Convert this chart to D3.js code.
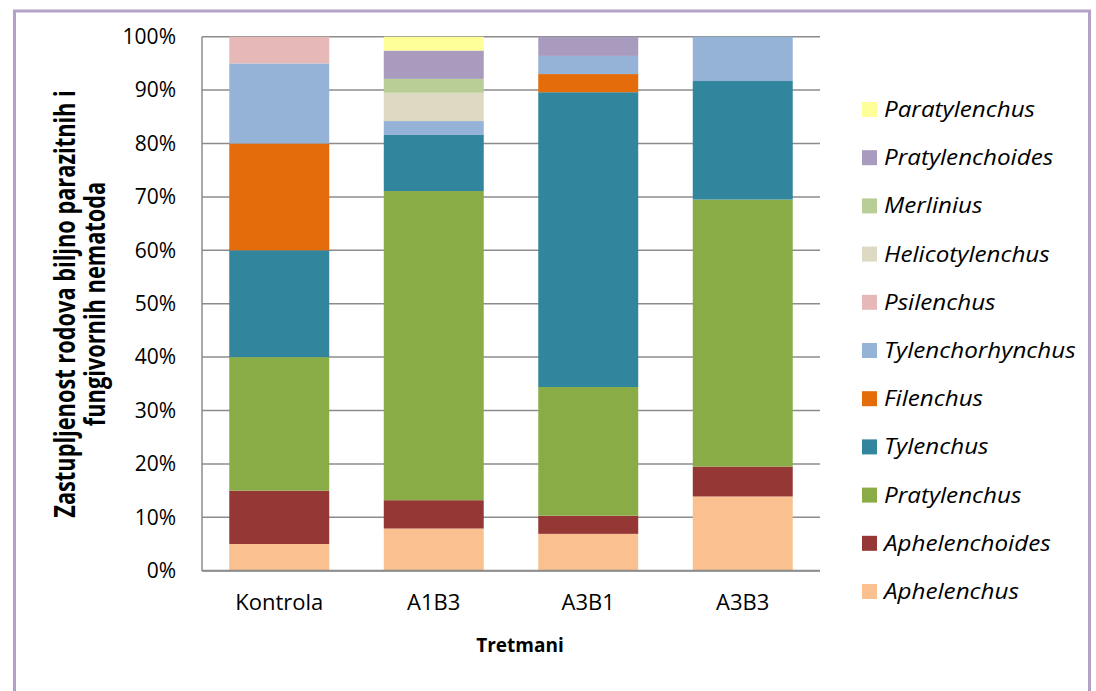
<!DOCTYPE html>
<html>
<head>
<meta charset="utf-8">
<script src="https://cdn.jsdelivr.net/npm/d3@7"></script>
<style>
  body { margin: 0; background: #fff; }
  svg { display: block; font-family: "Open Sans", sans-serif; }
</style>
</head>
<body>
<svg id="canvas" width="1096" height="691"></svg>
<script>
// treatments on the x axis
let treatments = ['Kontrola', 'A1B3', 'A3B1', 'A3B3']

// genera, bottom of stack first
let genera = ['Aphelenchus', 'Aphelenchoides', 'Pratylenchus', 'Tylenchus', 'Filenchus',
  'Tylenchorhynchus', 'Psilenchus', 'Helicotylenchus', 'Merlinius', 'Pratylenchoides', 'Paratylenchus']

let colors = ['#fac090', '#953735', '#8aac47', '#31859c', '#e46c0a',
  '#95b3d7', '#e6b9b8', '#ddd9c3', '#b9cd96', '#a99bbd', '#ffff99']

// share (%) of each genus per treatment, same order as genera
let kontrola = [5, 10, 25, 20, 20, 15, 5, 0, 0, 0, 0]
let a1b3 = [7.9, 5.3, 57.9, 10.5, 0, 2.6, 0, 5.3, 2.6, 5.3, 2.6]
let a3b1 = [6.9, 3.4, 24.1, 55.2, 3.4, 3.4, 0, 0, 0, 3.6, 0]
let a3b3 = [13.9, 5.6, 50, 22.2, 0, 8.3, 0, 0, 0, 0, 0]

let yTicks = [0, 10, 20, 30, 40, 50, 60, 70, 80, 90, 100]

let seriesValues = [kontrola, a1b3, a3b1, a3b3]

let rows = treatments.map((t, i) => {
    let row = { treatment: t }
    genera.forEach((g, j) => { row[g] = seriesValues[i][j] })
    return row
})

let canvas = d3.select('#canvas')

// purple frame round the chart
canvas.append('rect')
    .attr('x', 14.5).attr('y', 11)
    .attr('width', 1075).attr('height', 700)
    .attr('fill', 'none')
    .attr('stroke', '#b3a2c7')
    .attr('stroke-width', 3)

let xScale = d3.scaleBand()
    .domain(treatments)
    .range([202, 820])
    .paddingInner(0.353)
    .paddingOuter(0.1765)

let yScale = d3.scaleLinear()
    .domain([0, 100])
    .range([570.7, 36.7])

// gridlines
canvas.append('g')
    .selectAll('line')
    .data(yTicks)
    .enter()
    .append('line')
    .attr('x1', 202).attr('x2', 820)
    .attr('y1', (d) => yScale(d)).attr('y2', (d) => yScale(d))
    .attr('stroke', '#8c8c8c')
    .attr('stroke-width', 1.5)

let stack = d3.stack().keys(genera)
let stacked = stack(rows)

canvas.append('g')
    .selectAll('g')
    .data(stacked)
    .enter()
    .append('g')
    .attr('fill', (s, i) => colors[i])
    .selectAll('rect')
    .data((s) => s)
    .enter()
    .append('rect')
    .attr('x', (d) => xScale(d.data.treatment))
    .attr('width', xScale.bandwidth())
    .attr('y', (d) => yScale(d[1]))
    .attr('height', (d) => yScale(d[0]) - yScale(d[1]))

// axis lines
canvas.append('line')
    .attr('x1', 202).attr('x2', 202).attr('y1', 36.7).attr('y2', 571)
    .attr('stroke', '#8c8c8c').attr('stroke-width', 1.5)
canvas.append('line')
    .attr('x1', 202).attr('x2', 820).attr('y1', 570.7).attr('y2', 570.7)
    .attr('stroke', '#8c8c8c').attr('stroke-width', 2)

let yAxis = d3.axisLeft(yScale)
    .tickValues(yTicks)
    .tickSize(0)
    .tickPadding(0)
    .tickFormat((d) => d + '%')

canvas.append('g')
    .attr('transform', 'translate(176,0)')
    .call(yAxis)
    .call((g) => g.select('.domain').remove())
    .selectAll('text')
    .attr('font-family', '"Open Sans", sans-serif')
    .attr('font-size', 21)
    .attr('fill', '#000')

let xAxis = d3.axisBottom(xScale).tickSize(0).tickPadding(0)

canvas.append('g')
    .attr('transform', 'translate(0,594)')
    .call(xAxis)
    .call((g) => g.select('.domain').remove())
    .selectAll('text')
    .attr('font-family', '"Open Sans", sans-serif')
    .attr('font-size', 22)
    .attr('fill', '#000')

canvas.append('text')
    .text('Tretmani')
    .attr('x', 520).attr('y', 652)
    .attr('text-anchor', 'middle')
    .attr('font-weight', 'bold')
    .attr('font-size', 19)

// the source picture is stretched sideways, so the rotated title is widened
let yTitle = canvas.append('text')
    .attr('transform', 'translate(75,304) scale(1.3,1) rotate(-90)')
    .attr('text-anchor', 'middle')
    .attr('font-weight', 'bold')
    .attr('font-size', 21.8)
yTitle.append('tspan').attr('x', 0).attr('dy', 0).text('Zastupljenost rodova biljno parazitnih i')
yTitle.append('tspan').attr('x', 0).attr('dy', 23).text('fungivornih nematoda')

// legend, top entry is the top of the stack
let legendOrder = genera.slice().reverse()

let legend = canvas.append('g')
    .selectAll('g')
    .data(legendOrder)
    .enter()
    .append('g')
    .attr('transform', (g, i) => 'translate(862,' + (109.5 + i * 48.2) + ')')

legend.append('rect')
    .attr('x', 0).attr('y', -7.5)
    .attr('width', 15).attr('height', 15)
    .attr('fill', (g) => colors[genera.indexOf(g)])

legend.append('text')
    .text((g) => g)
    .attr('transform', 'translate(22,7.5) scale(1.1,1)')
    .attr('font-style', 'italic')
    .attr('font-size', 22)
</script>
</body>
</html>
